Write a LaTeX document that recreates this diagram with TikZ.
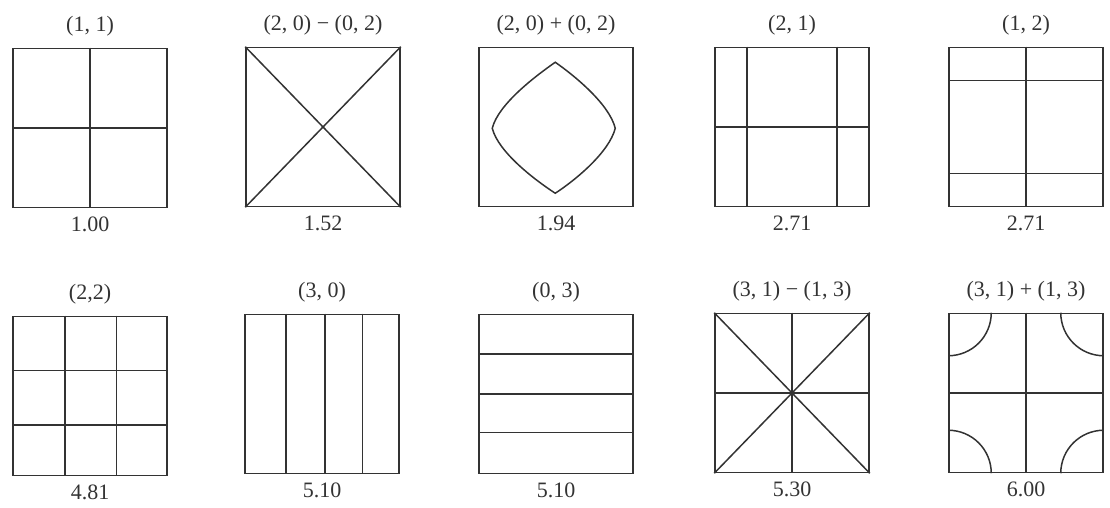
\documentclass[tikz,border=0pt]{standalone}
\usepackage{fontspec}
\setmainfont{Liberation Serif}
\usetikzlibrary{positioning,calc}

\begin{document}
\begin{tikzpicture}[
  x=1pt, y=1pt,
  plate/.style={rectangle, draw=black!80, line width=1.5pt, minimum width=154pt,
                minimum height=159pt, inner sep=0pt},
  mode/.style={font=\fontsize{22}{24}\selectfont, text=black!80, inner sep=1pt},
  freq/.style={font=\fontsize{22}{24}\selectfont, text=black!80, inner sep=1pt},
  nodal/.style={draw=black!80, line width=1.5pt}
]
\useasboundingbox (0,0) rectangle (1110,508);

% first row of plates
\node[plate] (p11)  at (90,380)  {};
\node[plate] (p20m) at (323,381) {};
\node[plate] (p20p) at (556,381) {};
\node[plate] (p21)  at (792,381) {};
\node[plate] (p12)  at (1026,381) {};

% second row of plates
\node[plate] (p22)  at (90,112)  {};
\node[plate] (p30)  at (322,114) {};
\node[plate] (p03)  at (556,114) {};
\node[plate] (p31m) at (792,115) {};
\node[plate] (p31p) at (1026,115) {};

% mode names
\node[mode, above=10pt of p11]  (m11)  {(1, 1)};
\node[mode, above=10pt of p20m] (m20m) {(2, 0) − (0, 2)};
\node[mode, above=10pt of p20p] (m20p) {(2, 0) + (0, 2)};
\node[mode, above=10pt of p21]  (m21)  {(2, 1)};
\node[mode, above=10pt of p12]  (m12)  {(1, 2)};
\node[mode, above=10pt of p22]  (m22)  {(2,2)};
\node[mode, above=10pt of p30]  (m30)  {(3, 0)};
\node[mode, above=10pt of p03]  (m03)  {(0, 3)};
\node[mode, above=10pt of p31m] (m31m) {(3, 1) − (1, 3)};
\node[mode, above=10pt of p31p] (m31p) {(3, 1) + (1, 3)};

% frequency ratios
\node[freq, below=7pt of p11]  (f11)  {1.00};
\node[freq, below=7pt of p20m] (f20m) {1.52};
\node[freq, below=7pt of p20p] (f20p) {1.94};
\node[freq, below=7pt of p21]  (f21)  {2.71};
\node[freq, below=7pt of p12]  (f12)  {2.71};
\node[freq, below=7pt of p22]  (f22)  {4.81};
\node[freq, below=7pt of p30]  (f30)  {5.10};
\node[freq, below=7pt of p03]  (f03)  {5.10};
\node[freq, below=7pt of p31m] (f31m) {5.30};
\node[freq, below=7pt of p31p] (f31p) {6.00};

% nodal lines
\draw[nodal] (p11.north) -- (p11.south);
\draw[nodal] (p11.west) -- (p11.east);

\draw[nodal] (p20m.north west) -- (p20m.south east);
\draw[nodal] (p20m.south west) -- (p20m.north east);

\begin{scope}[shift={(p20p.south west)}]
\draw[nodal] (77,145) .. controls (97,131) and (131,103) .. (137,79)
  .. controls (131,55) and (97,27) .. (77,14)
  .. controls (57,27) and (20,55) .. (14,79)
  .. controls (20,103) and (57,131) .. (77,145) -- cycle;
\end{scope}

\draw[nodal] ($(p21.north west)!0.21!(p21.north east)$) -- ($(p21.south west)!0.21!(p21.south east)$);
\draw[nodal] ($(p21.north west)!0.79!(p21.north east)$) -- ($(p21.south west)!0.79!(p21.south east)$);
\draw[nodal] (p21.west) -- (p21.east);

\draw[nodal] ($(p12.north west)!0.21!(p12.south west)$) -- ($(p12.north east)!0.21!(p12.south east)$);
\draw[nodal] ($(p12.north west)!0.79!(p12.south west)$) -- ($(p12.north east)!0.79!(p12.south east)$);
\draw[nodal] (p12.north) -- (p12.south);

\draw[nodal] ($(p22.north west)!0.34!(p22.north east)$) -- ($(p22.south west)!0.34!(p22.south east)$);
\draw[nodal] ($(p22.north west)!0.67!(p22.north east)$) -- ($(p22.south west)!0.67!(p22.south east)$);
\draw[nodal] ($(p22.north west)!0.34!(p22.south west)$) -- ($(p22.north east)!0.34!(p22.south east)$);
\draw[nodal] ($(p22.north west)!0.68!(p22.south west)$) -- ($(p22.north east)!0.68!(p22.south east)$);

\draw[nodal] ($(p30.north west)!0.27!(p30.north east)$) -- ($(p30.south west)!0.27!(p30.south east)$);
\draw[nodal] ($(p30.north west)!0.52!(p30.north east)$) -- ($(p30.south west)!0.52!(p30.south east)$);
\draw[nodal] ($(p30.north west)!0.76!(p30.north east)$) -- ($(p30.south west)!0.76!(p30.south east)$);

\draw[nodal] ($(p03.north west)!0.25!(p03.south west)$) -- ($(p03.north east)!0.25!(p03.south east)$);
\draw[nodal] ($(p03.north west)!0.5!(p03.south west)$) -- ($(p03.north east)!0.5!(p03.south east)$);
\draw[nodal] ($(p03.north west)!0.74!(p03.south west)$) -- ($(p03.north east)!0.74!(p03.south east)$);

\draw[nodal] (p31m.north west) -- (p31m.south east);
\draw[nodal] (p31m.south west) -- (p31m.north east);
\draw[nodal] (p31m.north) -- (p31m.south);
\draw[nodal] (p31m.west) -- (p31m.east);

\draw[nodal] (p31p.north) -- (p31p.south);
\draw[nodal] (p31p.west) -- (p31p.east);
\draw[nodal] ($(p31p.north west)+(43,0)$) arc[start angle=0, end angle=-90, radius=43];
\draw[nodal] ($(p31p.north east)+(-43,0)$) arc[start angle=180, end angle=270, radius=43];
\draw[nodal] ($(p31p.south west)+(43,0)$) arc[start angle=0, end angle=90, radius=43];
\draw[nodal] ($(p31p.south east)+(-43,0)$) arc[start angle=180, end angle=90, radius=43];
\end{tikzpicture}
\end{document}
